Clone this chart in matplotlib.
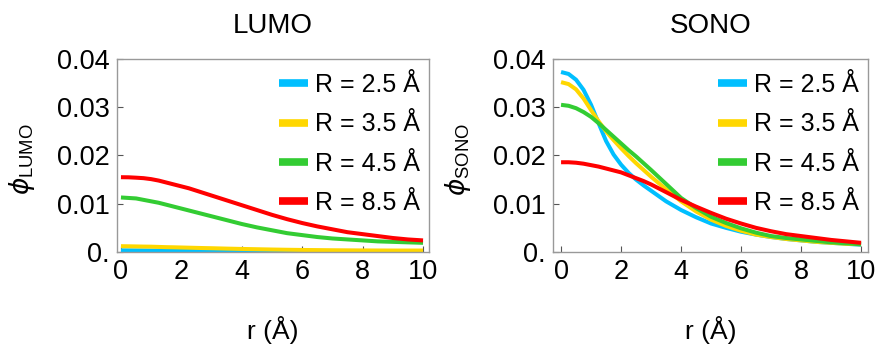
import matplotlib
matplotlib.use("Agg")
import matplotlib.pyplot as plt

plt.rcParams['font.family'] = ['Liberation Sans', 'DejaVu Sans']
plt.rcParams['mathtext.fontset'] = 'custom'
plt.rcParams['mathtext.rm'] = 'Liberation Sans'
plt.rcParams['mathtext.it'] = 'DejaVu Sans:italic'

# radial distance (Angstrom)
r = [0, 0.25, 0.5, 0.75, 1, 1.25, 1.5, 1.75, 2, 2.25, 2.5, 2.75, 3,
     3.5, 4, 4.5, 5, 5.5, 6, 6.5, 7, 7.5, 8, 8.5, 9, 9.5, 10]

labels = ["R = 2.5 Å", "R = 3.5 Å", "R = 4.5 Å", "R = 8.5 Å"]
colors = ["#00BFFF", "#FFD700", "#33CC33", "#FF0000"]

# LUMO
lumo_25 = [0.00035, 0.00034, 0.00033, 0.00032, 0.0003, 0.00029, 0.00027, 0.00025, 0.00024,
           0.00022, 0.0002, 0.00018, 0.00017,
           0.00014, 0.00011, 0.00009, 0.00007, 0.00005, 0.00004, 0.00003, 0.00002,
           0.00002, 0.00001, 0.00001, 0.00001, 0.0, 0.0]
lumo_35 = [0.0012, 0.00118, 0.00115, 0.00112, 0.0011, 0.00105, 0.001, 0.00097, 0.00093,
           0.00089, 0.00085, 0.00081, 0.00078,
           0.0007, 0.00063, 0.00057, 0.00051, 0.00046, 0.00042, 0.00039, 0.00036,
           0.00034, 0.00032, 0.00031, 0.0003, 0.0003, 0.0003]
lumo_45 = [0.0113, 0.0112, 0.0111, 0.0108, 0.0105, 0.0102, 0.0098, 0.0094, 0.0090,
           0.0086, 0.0082, 0.0078, 0.0074,
           0.0066, 0.0058, 0.0051, 0.0045, 0.0039, 0.0035, 0.0031, 0.0028,
           0.0026, 0.0024, 0.0022, 0.0021, 0.0020, 0.0019]
lumo_85 = [0.0155, 0.01548, 0.0154, 0.0153, 0.0151, 0.0148, 0.0144, 0.0140, 0.0136,
           0.0132, 0.0127, 0.0122, 0.0117,
           0.0107, 0.0097, 0.0087, 0.0077, 0.0068, 0.0060, 0.0053, 0.0047,
           0.0041, 0.0037, 0.0033, 0.0029, 0.0026, 0.0024]

# SONO
sono_25 = [0.0373, 0.0369, 0.0357, 0.0336, 0.0305, 0.0267, 0.0230, 0.0202, 0.0181,
           0.0164, 0.0150, 0.0138, 0.0127,
           0.0105, 0.0087, 0.0072, 0.0059, 0.0050, 0.0042, 0.0036, 0.0031,
           0.0027, 0.0024, 0.0021, 0.0019, 0.0017, 0.0015]
sono_35 = [0.0352, 0.0348, 0.0337, 0.0318, 0.0294, 0.0271, 0.0250, 0.0232, 0.0215,
           0.0199, 0.0184, 0.0170, 0.0156,
           0.0130, 0.0105, 0.0084, 0.0067, 0.0054, 0.0044, 0.0036, 0.0031,
           0.0027, 0.0024, 0.0021, 0.0019, 0.0017, 0.0016]
sono_45 = [0.0305, 0.0303, 0.0298, 0.0290, 0.0280, 0.0267, 0.0253, 0.0239, 0.0225,
           0.0211, 0.0198, 0.0184, 0.0170,
           0.0141, 0.0112, 0.0091, 0.0073, 0.0060, 0.0049, 0.0040, 0.0033,
           0.0029, 0.0026, 0.0023, 0.0020, 0.0018, 0.0016]
sono_85 = [0.0186, 0.0186, 0.0185, 0.0183, 0.0180, 0.0177, 0.0173, 0.0169, 0.0165,
           0.0159, 0.0153, 0.0147, 0.0140,
           0.0124, 0.0108, 0.0094, 0.0081, 0.0069, 0.0059, 0.0050, 0.0043,
           0.0037, 0.0033, 0.0029, 0.0025, 0.0022, 0.0019]

yticks = [0, 0.01, 0.02, 0.03, 0.04]
yticklabels = ["0.", "0.01", "0.02", "0.03", "0.04"]
xticks = [0, 2, 4, 6, 8, 10]

fig = plt.figure(figsize=(8.78, 3.45), dpi=100)
ax1 = fig.add_axes([0.1333, 0.2696, 0.3554, 0.5594])
ax2 = fig.add_axes([0.6298, 0.2696, 0.3588, 0.5594])

panels = [
    (ax1, "LUMO", [lumo_25, lumo_35, lumo_45, lumo_85], (-0.13, 10.2), -0.256),
    (ax2, "SONO", [sono_25, sono_35, sono_45, sono_85], (-0.27, 10.23), -0.254),
]

for ax, name, series, xl, ylx in panels:
    for y, c, lab in zip(series, colors, labels):
        ax.plot(r, y, color=c, lw=2.9, label=lab, solid_capstyle='butt')
    ax.set_xlim(*xl)
    ax.set_ylim(0, 0.04)
    ax.set_xticks(xticks)
    ax.set_yticks(yticks)
    ax.set_yticklabels(yticklabels)
    ax.tick_params(direction='in', length=4, width=0.8, color='#555555',
                   labelsize=19.5, pad=5)
    for s in ax.spines.values():
        s.set_color('#999999')
        s.set_linewidth(1.0)
    ax.set_title(name, fontsize=20, pad=19)
    ax.set_xlabel("r (Å)", fontsize=19, labelpad=22.5)
    ax.set_ylabel(r"$\phi_{\mathrm{" + name + "}}$", fontsize=19)
    ax.yaxis.set_label_coords(ylx, 0.48)
    leg = ax.legend(loc='upper right', bbox_to_anchor=(1.0, 0.972), frameon=False,
                    fontsize=18, handlelength=1.15, handletextpad=0.3,
                    labelspacing=0.61, borderaxespad=0.15, borderpad=0.2)
    for h in leg.get_lines():
        h.set_linewidth(5.5)

fig.savefig("out.png", dpi=100)
